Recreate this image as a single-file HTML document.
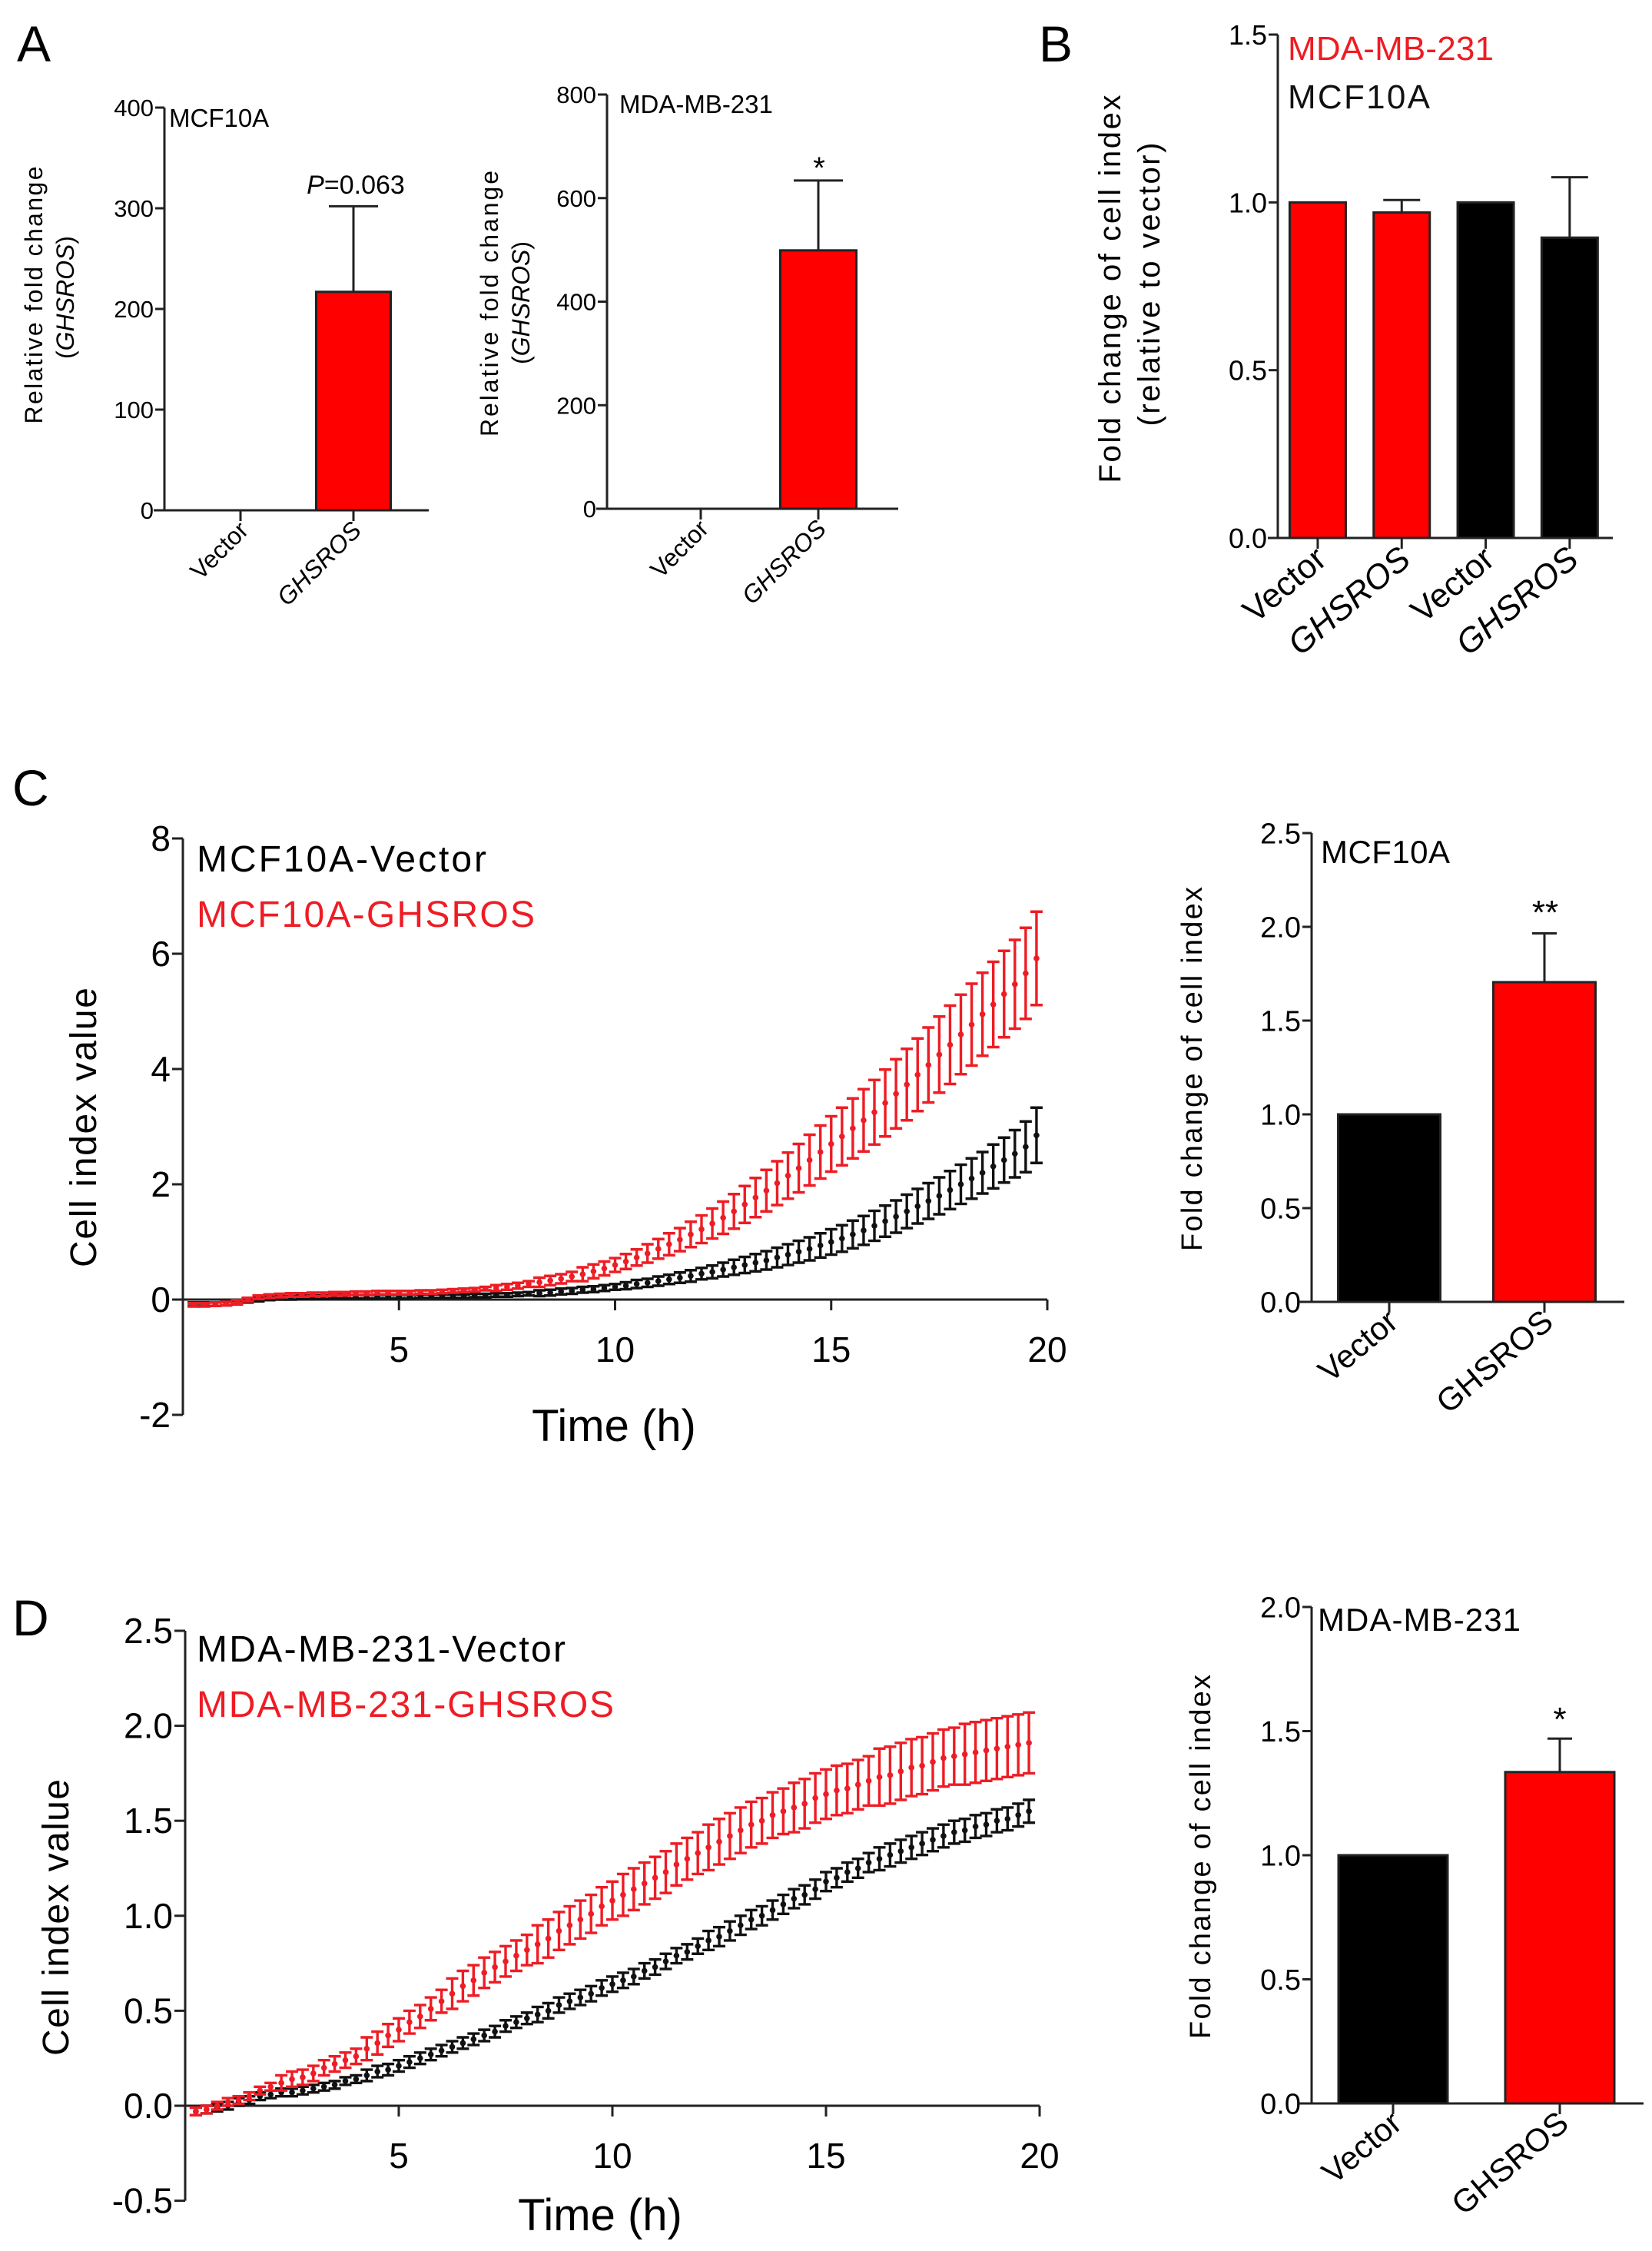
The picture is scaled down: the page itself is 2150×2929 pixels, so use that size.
<!DOCTYPE html>
<html><head><meta charset="utf-8"><title>GHSROS figure</title>
<style>
html,body{margin:0;padding:0;background:#fff;}
svg{display:block;}
text{font-family:"Liberation Sans",Arial,sans-serif;}
.n{font-family:"Liberation Sans",Arial,sans-serif;}
</style></head>
<body>
<svg id="fig" xmlns="http://www.w3.org/2000/svg" width="2150" height="2929" viewBox="0 0 2150 2929">
<rect x="0" y="0" width="2150" height="2929" fill="#fff"/>
<text x="22" y="80" font-size="66">A</text>
<text x="1352" y="80" font-size="66">B</text>
<text x="16" y="1048" font-size="66">C</text>
<text x="16" y="2128" font-size="66">D</text>
</svg>
<script>
// ---------- DATA ----------
const a1Categories = ["Vector", "GHSROS"];
const a1Values = [0, 217];
const a1Errors = [0, 85];
const a1Ticks = [0, 100, 200, 300, 400];

const a2Categories = ["Vector", "GHSROS"];
const a2Values = [0, 499];
const a2Errors = [0, 135];
const a2Ticks = [0, 200, 400, 600, 800];

const bCategories = ["Vector", "GHSROS", "Vector", "GHSROS"];
const bValues = [1.0, 0.97, 1.0, 0.895];
const bErrors = [0, 0.037, 0, 0.18];
const bTicks = [0.0, 0.5, 1.0, 1.5];
const bTickLabels = ["0.0", "0.5", "1.0", "1.5"];

const cBarCategories = ["Vector", "GHSROS"];
const cBarValues = [1.0, 1.705];
const cBarErrors = [0, 0.26];
const cBarTicks = [0.0, 0.5, 1.0, 1.5, 2.0, 2.5];
const cBarTickLabels = ["0.0", "0.5", "1.0", "1.5", "2.0", "2.5"];

const dBarCategories = ["Vector", "GHSROS"];
const dBarValues = [1.0, 1.335];
const dBarErrors = [0, 0.135];
const dBarTicks = [0.0, 0.5, 1.0, 1.5, 2.0];
const dBarTickLabels = ["0.0", "0.5", "1.0", "1.5", "2.0"];

const times = [0.25,0.5,0.75,1,1.25,1.5,1.75,2,2.25,2.5,2.75,3,3.25,3.5,3.75,4,4.25,4.5,4.75,5,5.25,5.5,5.75,6,6.25,6.5,6.75,7,7.25,7.5,7.75,8,8.25,8.5,8.75,9,9.25,9.5,9.75,10,10.25,10.5,10.75,11,11.25,11.5,11.75,12,12.25,12.5,12.75,13,13.25,13.5,13.75,14,14.25,14.5,14.75,15,15.25,15.5,15.75,16,16.25,16.5,16.75,17,17.25,17.5,17.75,18,18.25,18.5,18.75,19,19.25,19.5,19.75];

const cRedMean = [-0.09,-0.09,-0.08,-0.07,-0.04,0.0,0.04,0.06,0.07,0.08,0.08,0.09,0.09,0.10,0.10,0.11,0.11,0.12,0.12,0.12,0.12,0.13,0.13,0.14,0.15,0.16,0.17,0.19,0.2,0.22,0.24,0.27,0.3,0.33,0.36,0.4,0.44,0.49,0.54,0.6,0.66,0.73,0.8,0.88,0.96,1.04,1.13,1.22,1.32,1.42,1.53,1.65,1.77,1.89,2.02,2.15,2.28,2.42,2.56,2.7,2.83,2.97,3.11,3.25,3.41,3.57,3.73,3.9,4.07,4.25,4.42,4.6,4.77,4.95,5.12,5.3,5.47,5.66,5.92];
const cRedErr = [0.03,0.03,0.03,0.03,0.03,0.03,0.03,0.03,0.03,0.03,0.03,0.03,0.03,0.03,0.03,0.03,0.03,0.03,0.03,0.03,0.03,0.03,0.03,0.03,0.03,0.03,0.03,0.03,0.05,0.05,0.05,0.05,0.08,0.08,0.08,0.08,0.12,0.12,0.12,0.12,0.13,0.14,0.16,0.17,0.19,0.2,0.22,0.24,0.26,0.28,0.3,0.32,0.34,0.36,0.38,0.4,0.42,0.44,0.46,0.48,0.5,0.52,0.54,0.56,0.58,0.6,0.62,0.63,0.65,0.66,0.68,0.69,0.71,0.72,0.74,0.75,0.77,0.79,0.81];
const cBlackMean = [-0.08,-0.08,-0.08,-0.07,-0.05,-0.02,0.0,0.02,0.03,0.03,0.04,0.04,0.04,0.05,0.05,0.05,0.05,0.05,0.05,0.05,0.05,0.06,0.06,0.06,0.06,0.06,0.07,0.07,0.08,0.08,0.09,0.1,0.11,0.12,0.14,0.15,0.17,0.18,0.2,0.22,0.24,0.27,0.29,0.32,0.35,0.38,0.41,0.45,0.48,0.52,0.56,0.6,0.64,0.68,0.73,0.78,0.83,0.88,0.94,1.0,1.06,1.13,1.2,1.28,1.36,1.44,1.53,1.62,1.71,1.8,1.9,2.0,2.1,2.2,2.31,2.42,2.53,2.65,2.85];
const cBlackErr = [0.03,0.03,0.03,0.03,0.03,0.03,0.03,0.03,0.03,0.03,0.03,0.03,0.03,0.03,0.03,0.03,0.03,0.03,0.03,0.03,0.03,0.03,0.03,0.03,0.03,0.03,0.03,0.03,0.03,0.03,0.03,0.03,0.05,0.05,0.05,0.05,0.05,0.05,0.05,0.05,0.06,0.07,0.07,0.08,0.08,0.09,0.1,0.1,0.11,0.12,0.13,0.14,0.15,0.16,0.17,0.18,0.19,0.2,0.21,0.22,0.23,0.24,0.25,0.26,0.27,0.28,0.29,0.3,0.31,0.32,0.33,0.34,0.35,0.36,0.38,0.39,0.41,0.44,0.48];

const dRedMean = [-0.03,-0.02,0.0,0.02,0.03,0.05,0.08,0.1,0.12,0.14,0.15,0.17,0.2,0.22,0.24,0.26,0.3,0.33,0.37,0.4,0.44,0.47,0.51,0.55,0.59,0.63,0.66,0.7,0.73,0.76,0.79,0.82,0.85,0.88,0.92,0.95,0.98,1.01,1.05,1.08,1.11,1.14,1.17,1.2,1.23,1.27,1.3,1.33,1.36,1.39,1.42,1.45,1.48,1.5,1.53,1.55,1.57,1.59,1.62,1.64,1.66,1.67,1.69,1.71,1.73,1.74,1.76,1.78,1.79,1.81,1.83,1.84,1.85,1.86,1.87,1.88,1.89,1.9,1.91];
const dRedErr = [0.02,0.02,0.02,0.02,0.02,0.02,0.02,0.02,0.04,0.04,0.04,0.04,0.04,0.04,0.04,0.04,0.06,0.06,0.06,0.06,0.06,0.06,0.06,0.06,0.08,0.08,0.08,0.08,0.08,0.08,0.08,0.08,0.1,0.1,0.1,0.1,0.1,0.1,0.1,0.1,0.11,0.11,0.11,0.11,0.11,0.11,0.11,0.11,0.12,0.12,0.12,0.12,0.12,0.12,0.12,0.12,0.13,0.13,0.13,0.13,0.13,0.13,0.13,0.13,0.15,0.15,0.15,0.15,0.15,0.15,0.15,0.15,0.16,0.16,0.16,0.16,0.16,0.16,0.16];
const dBlackMean = [-0.03,-0.02,-0.01,0.0,0.02,0.03,0.05,0.06,0.07,0.07,0.08,0.09,0.1,0.11,0.13,0.14,0.16,0.18,0.19,0.21,0.23,0.25,0.27,0.29,0.31,0.33,0.35,0.37,0.39,0.42,0.44,0.46,0.48,0.5,0.53,0.55,0.57,0.59,0.62,0.64,0.66,0.68,0.71,0.73,0.76,0.79,0.81,0.84,0.87,0.89,0.92,0.95,0.98,1.0,1.03,1.06,1.09,1.11,1.14,1.18,1.2,1.23,1.25,1.28,1.3,1.32,1.34,1.36,1.38,1.4,1.42,1.44,1.45,1.47,1.48,1.5,1.51,1.53,1.55];
const dBlackErr = [0.02,0.02,0.02,0.02,0.02,0.02,0.02,0.02,0.02,0.02,0.02,0.02,0.02,0.02,0.02,0.02,0.03,0.03,0.03,0.03,0.03,0.03,0.03,0.03,0.03,0.03,0.03,0.03,0.03,0.03,0.03,0.03,0.04,0.04,0.04,0.04,0.04,0.04,0.04,0.04,0.04,0.04,0.04,0.04,0.04,0.04,0.04,0.04,0.05,0.05,0.05,0.05,0.05,0.05,0.05,0.05,0.05,0.05,0.05,0.05,0.05,0.05,0.05,0.05,0.06,0.06,0.06,0.06,0.06,0.06,0.06,0.06,0.06,0.06,0.06,0.06,0.06,0.06,0.06];

const cXTicks = [5, 10, 15, 20];
const cYTicks = [-2, 0, 2, 4, 6, 8];
const dXTicks = [5, 10, 15, 20];
const dYTicks = [-0.5, 0.0, 0.5, 1.0, 1.5, 2.0, 2.5];
const dYTickLabels = ["-0.5", "0.0", "0.5", "1.0", "1.5", "2.0", "2.5"];

// ---------- DRAWING ----------
const NS = "http://www.w3.org/2000/svg";
const svg = document.getElementById("fig");
function mk(tag, attrs, parent) {
  const e = document.createElementNS(NS, tag);
  for (const k in attrs) e.setAttribute(k, attrs[k]);
  (parent || svg).appendChild(e);
  return e;
}
function line(x1, y1, x2, y2, color, w, g) {
  return mk("line", {x1: x1, y1: y1, x2: x2, y2: y2, stroke: color, "stroke-width": w}, g);
}
function txt(x, y, s, size, anchor, g, extra) {
  const t = mk("text", Object.assign({x: x, y: y, "font-size": size, "text-anchor": anchor || "start"}, extra || {}), g);
  t.textContent = s;
  return t;
}

function barPanel(cfg, cats, vals, errs, ticks, tickLabels, colors, name) {
  const g = mk("g", {});
  
  
  const ys = v => cfg.yBot - (v - ticks[0]) / (ticks[ticks.length - 1] - ticks[0]) * (cfg.yBot - cfg.yTop);
  const xs = i => cfg.xStart + (i + 0.5) * cfg.step;
  const ya = line(cfg.axisX, cfg.yTop, cfg.axisX, cfg.yBot, "#222", 3, g);
  
  
  ticks.forEach((t, i) => {
    const y = ys(t);
    line(cfg.axisX - 12, y, cfg.axisX, y, "#222", 3, g);
    const lab = txt(cfg.axisX - 14, y + cfg.tickFont * 0.36, tickLabels ? tickLabels[i] : String(t), cfg.tickFont, "end", g, {});
    
    
  });
  vals.forEach((v, i) => {
    const x = xs(i), y = ys(v), y0 = ys(0);
    if (errs[i] > 0) {
      const ye = ys(v + errs[i]);
      const el = line(x, ye, x, y, "#222", 3, g);
      
      
      line(x - cfg.cap, ye, x + cfg.cap, ye, "#222", 3, g);
    }
    if (v > 0) {
      const r = mk("rect", {x: x - cfg.barW / 2, y: y, width: cfg.barW, height: Math.max(0, y0 - y), fill: colors[i], stroke: "#222", "stroke-width": 3}, g);
      
      
    }
  });
  const xa = line(cfg.xAxisStart, cfg.yBot, cfg.xAxisEnd, cfg.yBot, "#222", 3, g);
  
  
  cats.forEach((c, i) => {
    const x = xs(i);
    line(x, cfg.yBot, x, cfg.yBot + 14, "#222", 3, g);
    const lx = x + cfg.labDx, ly = cfg.yBot + cfg.labDy;
    const lab = txt(lx, ly, c, cfg.labFont, "end", g, {transform: "rotate(" + cfg.labRot + " " + lx + " " + ly + ")", "font-style": (c === "GHSROS" && cfg.italicG) ? "italic" : "normal"});
    
    
  });
  return {g: g, ys: ys, xs: xs};
}

// Panel A1
const pa1 = barPanel({axisX: 214, yTop: 140, yBot: 664, xStart: 239.5, step: 147, barW: 97, cap: 32, xAxisStart: 200, xAxisEnd: 558, tickFont: 31, labFont: 32, labDx: 12, labDy: 28, labRot: -45, italicG: true}, a1Categories, a1Values, a1Errors, a1Ticks, null, ["#ff0000", "#ff0000"], "panel-a-mcf10a");
let t;
t = txt(220, 165, "MCF10A", 33, "start", pa1.g, {});
 
t = mk("text", {x: 463, y: 252, "font-size": 34, "text-anchor": "middle"}, pa1.g);
t.innerHTML = '<tspan font-style="italic">P</tspan>=0.063';
 
t = txt(0, 0, "Relative fold change", 32, "middle", pa1.g, {transform: "translate(55 384) rotate(-90)", textLength: 335});
 
t = mk("text", {x: 0, y: 0, "font-size": 32, "text-anchor": "middle", transform: "translate(96 387) rotate(-90)"}, pa1.g);
t.innerHTML = '(<tspan font-style="italic">GHSROS</tspan>)';
 

// Panel A2
const pa2 = barPanel({axisX: 790, yTop: 123, yBot: 662, xStart: 835.5, step: 153, barW: 99, cap: 32, xAxisStart: 776, xAxisEnd: 1169, tickFont: 31, labFont: 32, labDx: 12, labDy: 28, labRot: -45, italicG: true}, a2Categories, a2Values, a2Errors, a2Ticks, null, ["#ff0000", "#ff0000"], "panel-a-mda");
t = txt(806, 147, "MDA-MB-231", 33, "start", pa2.g, {});
 
t = txt(1066, 232, "*", 40, "middle", pa2.g);
 
t = txt(0, 0, "Relative fold change", 32, "middle", pa2.g, {transform: "translate(648 395) rotate(-90)", textLength: 346});
 
t = mk("text", {x: 0, y: 0, "font-size": 32, "text-anchor": "middle", transform: "translate(689 394) rotate(-90)"}, pa2.g);
t.innerHTML = '(<tspan font-style="italic">GHSROS</tspan>)';
 

// Panel B
const pb = barPanel({axisX: 1663, yTop: 45, yBot: 700, xStart: 1660.3, step: 109.3, barW: 73, cap: 24, xAxisStart: 1650, xAxisEnd: 2099, tickFont: 36, labFont: 44, labDx: 14, labDy: 32, labRot: -40, italicG: true}, bCategories, bValues, bErrors, bTicks, bTickLabels, ["#ff0000", "#ff0000", "#000", "#000"], "panel-b");
t = txt(1676, 78, "MDA-MB-231", 44, "start", pb.g, {fill: "#ee1c24", textLength: 268});
 
t = txt(1676, 141, "MCF10A", 44, "start", pb.g, {fill: "#111", textLength: 185});
 
t = txt(0, 0, "Fold change of cell index", 40, "middle", pb.g, {transform: "translate(1458 376) rotate(-90)", textLength: 505});
 
t = txt(0, 0, "(relative to vector)", 40, "middle", pb.g, {transform: "translate(1509 370) rotate(-90)", textLength: 369});
 

// Panel C bars
const pcb = barPanel({axisX: 1707, yTop: 1084, yBot: 1694, xStart: 1707, step: 202, barW: 133, cap: 16, xAxisStart: 1690, xAxisEnd: 2114, tickFont: 38, labFont: 42, labDx: 14, labDy: 30, labRot: -40, italicG: false}, cBarCategories, cBarValues, cBarErrors, cBarTicks, cBarTickLabels, ["#000", "#ff0000"], "panel-c-bars");
t = txt(1719, 1123, "MCF10A", 42, "start", pcb.g, {textLength: 168});
 
t = txt(2011, 1202, "**", 44, "middle", pcb.g);
 
t = txt(0, 0, "Fold change of cell index", 38, "middle", pcb.g, {transform: "translate(1564 1391) rotate(-90)", textLength: 474});
 

// Panel D bars
const pdb = barPanel({axisX: 1707, yTop: 2091, yBot: 2737, xStart: 1704.5, step: 217, barW: 142, cap: 16, xAxisStart: 1690, xAxisEnd: 2139, tickFont: 38, labFont: 42, labDx: 14, labDy: 30, labRot: -40, italicG: false}, dBarCategories, dBarValues, dBarErrors, dBarTicks, dBarTickLabels, ["#000", "#ff0000"], "panel-d-bars");
t = txt(1715, 2122, "MDA-MB-231", 42, "start", pdb.g, {textLength: 264});
 
t = txt(2030, 2252, "*", 44, "middle", pdb.g);
 
t = txt(0, 0, "Fold change of cell index", 38, "middle", pdb.g, {transform: "translate(1575 2416) rotate(-90)", textLength: 474});
 

// Line charts
function linePanel(cfg, name) {
  const g = mk("g", {});
  
  
  const xs = h => cfg.axisX + h * cfg.pxPerHour;
  const ys = v => cfg.y0 - v * cfg.pxPerUnit;
  const ya = line(cfg.axisX, ys(cfg.yTicks[0]), cfg.axisX, ys(cfg.yTicks[cfg.yTicks.length - 1]), "#222", 3, g);
  
  
  cfg.yTicks.forEach((v, i) => {
    const y = ys(v);
    line(cfg.axisX - 14, y, cfg.axisX, y, "#222", 3, g);
    const l = txt(cfg.axisX - 16, y + 16, cfg.yLabels ? cfg.yLabels[i] : String(v), 46, "end", g, {});
    
    
  });
  const xa = line(cfg.axisX, ys(0), xs(cfg.xTicks[cfg.xTicks.length - 1]), ys(0), "#222", 3, g);
  
  
  cfg.xTicks.forEach(h => {
    const x = xs(h);
    line(x, ys(0), x, ys(0) + 14, "#222", 3, g);
    const l = txt(x, cfg.xLabY, String(h), 46, "middle", g, {});
    
    
  });
  function series(mean, err, color, sname) {
    const sg = mk("g", {}, g);
    
    
    times.forEach((h, i) => {
      const x = xs(h), yt = ys(mean[i] + err[i]), yb = ys(mean[i] - err[i]);
      line(x, yt, x, yb, color, 3.4, sg);
      line(x - 8, yt, x + 8, yt, color, 3.4, sg);
      line(x - 8, yb, x + 8, yb, color, 3.4, sg);
      const p = mk("circle", {cx: x, cy: ys(mean[i]), r: 3.8, fill: color}, sg);
      
      
    });
  }
  return {g: g, series: series};
}

const pc = linePanel({axisX: 238, pxPerHour: 56.25, y0: 1691, pxPerUnit: 75, yTicks: cYTicks, xTicks: cXTicks, xLabY: 1772}, "panel-c-growth");
pc.series(cBlackMean, cBlackErr, "#111", "series-mcf10a-vector");
pc.series(cRedMean, cRedErr, "#ee1c24", "series-mcf10a-ghsros");
t = txt(256, 1134, "MCF10A-Vector", 48, "start", pc.g, {textLength: 377});
 
t = txt(256, 1206, "MCF10A-GHSROS", 48, "start", pc.g, {fill: "#ee1c24", textLength: 440});
 
t = txt(799, 1875, "Time (h)", 58, "middle", pc.g, {});
 
t = txt(0, 0, "Cell index value", 48, "middle", pc.g, {transform: "translate(125 1467) rotate(-90)", textLength: 364});
 

const pd = linePanel({axisX: 241, pxPerHour: 55.6, y0: 2740, pxPerUnit: 247.2, yTicks: dYTicks, yLabels: dYTickLabels, xTicks: dXTicks, xLabY: 2821}, "panel-d-growth");
pd.series(dBlackMean, dBlackErr, "#111", "series-mda-vector");
pd.series(dRedMean, dRedErr, "#ee1c24", "series-mda-ghsros");
t = txt(256, 2162, "MDA-MB-231-Vector", 48, "start", pd.g, {textLength: 480});
 
t = txt(256, 2234, "MDA-MB-231-GHSROS", 48, "start", pd.g, {fill: "#ee1c24", textLength: 543});
 
t = txt(781, 2902, "Time (h)", 58, "middle", pd.g, {});
 
t = txt(0, 0, "Cell index value", 48, "middle", pd.g, {transform: "translate(89 2495) rotate(-90)", textLength: 360});
 
</script>
</body></html>
